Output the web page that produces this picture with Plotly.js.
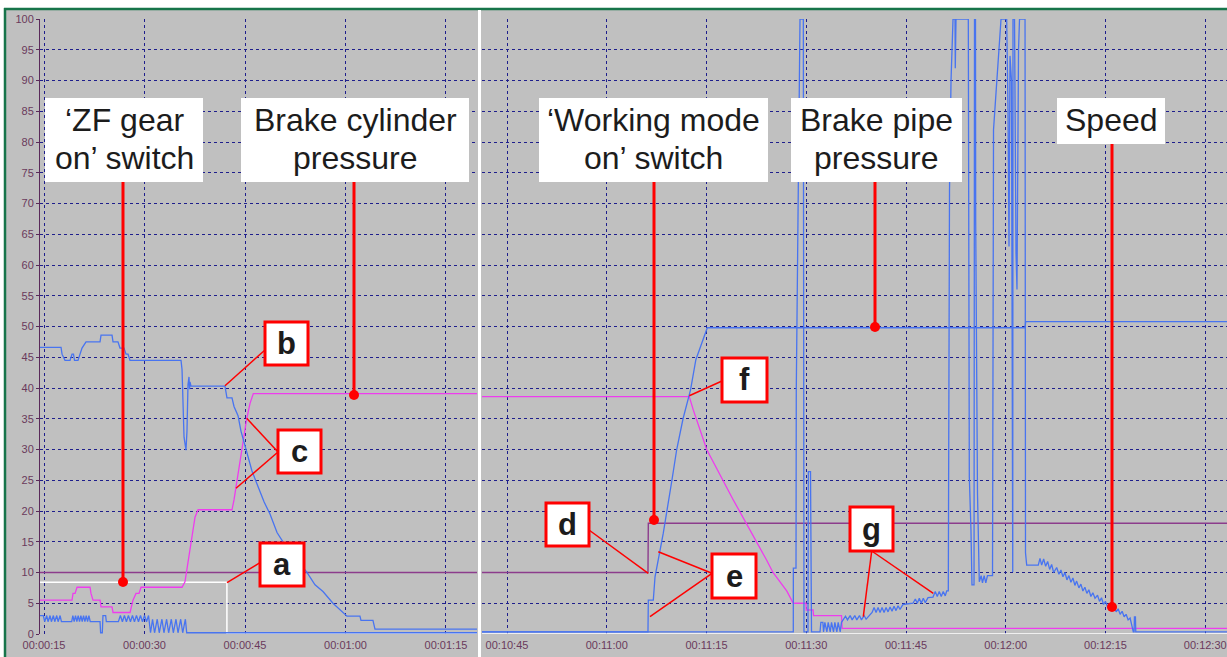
<!DOCTYPE html>
<html><head><meta charset="utf-8">
<script src="https://cdn.plot.ly/plotly-3.0.1.min.js"></script>
<style>html,body{margin:0;padding:0;background:#fff;}#chart{width:1227px;height:657px;}</style>
</head><body><div id="chart"></div>
<script>
// ---------- DATA (time in seconds, value in chart units 0-100) ----------
// Left window 00:00:15 .. 00:01:15
const leftTickVals = [15, 30, 45, 60, 75];
const leftTickText = ['00:00:15', '00:00:30', '00:00:45', '00:01:00', '00:01:15'];
// Right window 00:10:45 .. 00:12:30
const rightTickVals = [645, 660, 675, 690, 705, 720, 735, 750];
const rightTickText = ['00:10:45', '00:11:00', '00:11:15', '00:11:30', '00:11:45', '00:12:00', '00:12:15', '00:12:30'];

// 'ZF gear on' switch (white)
const zfLeft = [[14.4, 8.4], [42.3, 8.4], [42.3, 0], [79.63, 0]];
const zfRight = [[641.24, 0], [753.27, 0]];

// 'Working mode on' switch (purple)
const modeLeft = [[14.4, 10], [79.63, 10]];
const modeRight = [[641.24, 10], [666.2, 10], [666.25, 18], [753.27, 18]];

// Brake cylinder pressure (magenta)
const cylLeft = [[14.40,5.5],[19.18,5.5],[19.33,6.6],[19.63,6.6],[19.93,7.6],[21.87,7.6],[22.01,6.6],[22.31,5.5],[23.36,5.5],[23.51,4.4],[25.15,4.4],[25.30,3.5],[27.84,3.5],[28.28,5.5],[28.73,6.6],[29.18,6.6],[29.48,7.6],[35.60,7.6],[36.04,8.5],[36.79,14.0],[37.54,19.0],[37.99,20.2],[43.06,20.2],[43.36,21.8],[44.25,28.0],[45.25,35.0],[45.75,37.5],[46.24,39.1],[79.63,39.1]];
const cylRight = [[641.24,38.6],[672.41,38.6],[673.02,36.4],[675.03,30.0],[679.03,21.8],[682.55,15.0],[684.05,12.0],[685.0,10.0],[687.06,7.0],[688.05,5.0],[689.96,5.0],[690.0,3.9],[691.02,3.9],[691.1,3.0],[695.3,3.0],[695.4,0.9],[753.27,0.9]];

// Brake pipe pressure (blue)
const pipeLeft = [[14.40,46.6],[17.54,46.6],[17.69,45.5],[18.13,44.5],[18.88,44.5],[19.18,45.5],[19.40,45.5],[19.55,44.5],[20.07,44.5],[20.37,45.5],[20.67,46.5],[21.27,47.5],[23.36,47.5],[23.51,48.6],[25.15,48.6],[25.30,47.5],[26.04,47.5],[26.34,46.5],[26.94,46.5],[27.24,45.5],[27.54,45.5],[27.84,44.5],[35.45,44.5],[35.60,43.0],[35.75,38.0],[35.90,32.0],[36.19,29.9],[36.34,33.0],[36.49,40.5],[36.64,41.8],[36.72,39.8],[36.79,41.0],[36.94,40.3],[42.01,40.3],[42.31,38.4],[43.06,38.4],[43.36,37.0],[43.96,35.5],[44.40,33.0],[45.00,30.5],[45.45,29.0],[46.04,26.5],[46.94,24.0],[47.84,21.5],[48.73,19.5],[49.78,16.5],[50.67,15.0],[51.72,13.5],[53.21,11.5],[54.25,10.0],[55.45,8.0],[56.64,6.9],[58.13,5.0],[59.18,4.0],[60.22,2.9],[62.16,2.9],[62.31,2.2],[64.10,2.2],[64.40,0.8],[79.63,0.8]];
const pipeRight = [[641.24,0.35],[666.2,0.35],[666.25,5.5],[667.0,5.5],[667.26,9.3],[668.5,16.4],[669.8,25.0],[670.52,30.0],[671.47,35.0],[672.26,38.0],[672.6,39.7],[673.4,44.6],[675.12,49.8],[722.9,49.8],[723.0,50.8],[753.27,50.8]];

// Speed (blue)
const speedLeft = [[14.40,3.0],[14.9,3.0],[15.1,2.0],[15.4,3.0],[15.6,2.0],[15.9,3.0],[16.1,2.0],[16.4,3.0],[16.6,2.0],[16.9,3.0],[17.1,2.0],[17.4,3.0],[17.6,2.0],[19.13,2.0],[19.3,3.0],[19.5,2.0],[19.7,3.0],[19.9,2.0],[20.1,3.0],[20.3,2.0],[20.5,3.0],[20.7,2.0],[20.9,3.0],[21.1,2.0],[21.3,3.0],[21.5,2.0],[21.7,3.0],[21.9,2.0],[23.36,2.0],[23.45,0.2],[23.7,0.2],[23.8,3.0],[24.2,3.0],[24.3,2.0],[26.1,2.0],[26.4,3.0],[26.7,2.0],[27.0,3.0],[27.3,2.0],[27.6,3.0],[27.9,2.0],[28.2,3.0],[28.5,2.0],[28.8,3.0],[29.1,2.0],[29.4,3.0],[29.7,2.0],[30.0,3.0],[30.3,2.0],[30.6,3.0],[30.9,0.2],[31.2,2.4],[31.5,0.2],[31.9,2.4],[32.2,0.2],[32.6,2.4],[32.9,0.2],[33.3,2.4],[33.6,0.2],[34.0,2.4],[34.3,0.2],[34.7,2.4],[35.0,0.2],[35.4,2.4],[35.7,0.2],[36.1,2.4],[36.3,0.2],[79.63,0.2]];
const speedRight = [[641.24,0.35],[688.05,0.35],[688.06,10.7],[688.46,10.7],[688.5,39.7],[688.8,70],[689.06,100],[689.56,100],[689.66,0.35],[690.26,0.35],[690.31,26.4],[690.64,26.4],[690.67,12.8],[690.76,12.8],[690.79,0.35],[692.07,0.35],[692.2,1.9],[692.5,1.9],[692.6,0.35],[692.8,1.9],[693.1,0.35],[693.3,1.9],[693.6,0.35],[693.8,1.9],[694.1,0.35],[694.3,1.9],[694.6,0.35],[694.8,1.9],[695.1,0.35],[695.3,1.9],[695.53,2.3],[695.9,2.9],[696.2,2.3],[696.6,3.0],[696.9,2.3],[697.3,3.0],[697.6,2.3],[698.0,3.0],[698.3,2.3],[698.7,3.0],[699.0,2.4],[699.6,3.1],[699.9,3.5],[700.2,4.3],[700.5,3.5],[700.8,4.3],[701.1,3.5],[701.4,4.3],[701.7,3.5],[702.0,4.3],[702.3,3.6],[702.6,4.4],[702.9,3.7],[703.2,4.5],[703.5,3.8],[703.8,4.6],[704.1,4.0],[704.55,4.8],[706.05,5.0],[706.4,5.7],[706.7,5.0],[707.0,5.8],[707.3,5.0],[707.6,5.8],[707.9,5.1],[708.31,5.9],[709.06,6.0],[709.4,6.9],[709.7,6.1],[710.0,6.9],[710.3,6.1],[710.6,6.9],[710.9,6.2],[711.12,7.0],[711.36,7.0],[711.54,72],[711.77,90],[712.07,100],[712.37,100],[712.41,92],[712.52,100],[714.37,100],[714.52,25.6],[714.77,16.9],[714.92,8.0],[715.23,8.0],[715.3,100],[715.45,100],[715.48,67],[715.75,22.9],[716.02,8.5],[716.3,9.5],[716.5,8.3],[716.75,9.5],[717.0,8.3],[717.25,9.5],[718.01,9.5],[718.16,82],[718.79,92],[719.03,95.8],[719.29,100],[720.14,100],[720.34,85],[720.49,63],[720.64,94],[720.86,90],[720.98,10.1],[721.05,10.1],[721.09,100],[721.32,100],[721.54,62],[721.69,56],[721.92,95],[722.07,100],[722.9,100],[722.97,13.2],[723.15,11.2],[724.89,11.2],[725.15,12.3],[725.4,11.2],[725.7,12.2],[726.0,11.0],[726.3,11.8],[726.6,10.5],[726.9,11.3],[727.2,10.0],[727.66,10.8],[728.0,9.7],[728.3,10.4],[728.6,9.3],[728.9,10.0],[729.2,8.8],[729.5,9.5],[729.8,8.4],[730.1,9.1],[730.4,7.9],[730.66,8.6],[731.0,7.5],[731.3,8.1],[731.6,7.0],[731.9,7.6],[732.2,6.6],[732.5,7.2],[732.8,6.1],[733.1,6.7],[733.42,5.8],[733.8,6.3],[734.1,5.3],[734.4,5.9],[734.7,4.8],[735.0,5.3],[735.3,4.4],[735.7,4.9],[736.0,4.0],[736.3,4.5],[736.6,3.6],[736.9,4.1],[737.2,3.2],[737.5,3.7],[737.8,2.8],[738.1,3.2],[738.4,2.3],[738.7,2.6],[739.0,1.2],[739.18,0.35],[739.3,0.35],[739.35,2.8],[739.5,2.8],[739.55,0.35],[753.27,0.35]];

// Callout labels
const bigLabels = [
  {lines: ['\u2018ZF gear', 'on\u2019 switch'], box: [45, 98, 203, 182], pin: [123, 582]},
  {lines: ['Brake cylinder', 'pressure'], box: [241, 98, 469, 182], pin: [354, 395]},
  {lines: ['\u2018Working mode', 'on\u2019 switch'], box: [539, 98, 768, 182], pin: [654, 520]},
  {lines: ['Brake pipe', 'pressure'], box: [791, 98, 962, 182], pin: [875, 327]},
  {lines: ['Speed'], box: [1057, 98, 1165, 144], pin: [1112, 607]}
];
const letterLabels = [
  {t: 'a', box: [260, 543, 304, 586], leaders: [[227, 582.7]], from: [260, 562.7]},
  {t: 'b', box: [265, 322, 308, 365], leaders: [[225, 385.7]], from: [265, 350]},
  {t: 'c', box: [278, 430, 321, 473], leaders: [[246.7, 418.3], [236, 488.3]], from: [278, 452]},
  {t: 'd', box: [546, 503, 589, 546], leaders: [[648.3, 573.3]], from: [589, 530]},
  {t: 'e', box: [712, 554, 756, 598], leaders: [[658.3, 551.7], [650, 616.7]], from: [712, 573.3]},
  {t: 'f', box: [722, 358, 767, 402], leaders: [[689.3, 395.7]], from: [722, 381]},
  {t: 'g', box: [850, 507, 893, 551], leaders: [[863.3, 616.7], [933.3, 593.3]], from: [871.7, 551]}
];

// ---------- RENDER ----------
const W = 1227, H = 657, ML = 40, MR = 0, MT = 19, MB = 23;
const PW = W - ML - MR, PH = H - MT - MB;
const px = x => (x - ML) / PW;
const py = y => (H - MB - y) / PH;

const BLUE = '#4874f0', MAG = '#ee3cee', PURP = '#8c3c8c';
const FONT = 'Liberation Sans, Arial, sans-serif';
const xs = a => a.map(p => p[0]);
const ys = a => a.map(p => p[1]);
function tr(arr, color, width, xa, ya) {
  return {x: xs(arr), y: ys(arr), type: 'scatter', mode: 'lines', xaxis: xa, yaxis: ya,
    line: {color: color, width: width}, hoverinfo: 'skip', showlegend: false};
}
const data = [
  tr(zfLeft, '#ffffff', 1.5, 'x', 'y'),
  tr(modeLeft, PURP, 1.4, 'x', 'y'),
  tr(cylLeft, MAG, 1.3, 'x', 'y'),
  tr(speedLeft, BLUE, 1.3, 'x', 'y'),
  tr(pipeLeft, BLUE, 1.3, 'x', 'y'),
  tr(zfRight, '#ffffff', 1.5, 'x2', 'y2'),
  tr(modeRight, PURP, 1.4, 'x2', 'y2'),
  tr(cylRight, MAG, 1.3, 'x2', 'y2'),
  tr(pipeRight, BLUE, 1.3, 'x2', 'y2'),
  tr(speedRight, BLUE, 1.3, 'x2', 'y2')
];

const GRID = '#1e1e8c', AX = '#5a2a5a', TICKC = '#6a3a5c';
const gridStyle = {showgrid: true, gridcolor: GRID, gridwidth: 1, griddash: '3px,3px', zeroline: false, fixedrange: true};
const layout = {
  width: W, height: H,
  margin: {l: ML, r: MR, t: MT, b: MB, pad: 0},
  paper_bgcolor: '#c0c0c0', plot_bgcolor: '#c0c0c0',
  showlegend: false,
  xaxis: Object.assign({}, gridStyle, {domain: [0, px(477)], range: [14.4, 79.63], anchor: 'y',
    tickmode: 'array', tickvals: leftTickVals, ticktext: leftTickText, ticks: '', ticklabelstandoff: 3,
    tickfont: {family: FONT, size: 11, color: TICKC}, showline: false}),
  yaxis: Object.assign({}, gridStyle, {domain: [0, 1], range: [0, 100], anchor: 'x', tick0: 0, dtick: 5,
    ticks: 'outside', ticklen: 3, tickcolor: AX, showline: true, linecolor: AX, linewidth: 1,
    tickfont: {family: FONT, size: 11, color: TICKC}}),
  xaxis2: Object.assign({}, gridStyle, {domain: [px(482), 1], range: [641.24, 753.27], anchor: 'y2',
    tickmode: 'array', tickvals: rightTickVals, ticktext: rightTickText, ticks: '', ticklabelstandoff: 3,
    tickfont: {family: FONT, size: 11, color: TICKC}, showline: false}),
  yaxis2: Object.assign({}, gridStyle, {domain: [0, 1], range: [0, 100], anchor: 'x2', tick0: 0, dtick: 5,
    showticklabels: false, ticks: '', showline: false}),
  shapes: [], annotations: []
};

const S = layout.shapes, A = layout.annotations;
// frame: white outside, green border, white divider
S.push({type: 'rect', xref: 'paper', yref: 'paper', x0: px(0), x1: px(W), y0: py(8), y1: py(0), fillcolor: '#ffffff', line: {width: 0}, layer: 'below'});
S.push({type: 'rect', xref: 'paper', yref: 'paper', x0: px(0), x1: px(4), y0: py(H), y1: py(0), fillcolor: '#ffffff', line: {width: 0}, layer: 'below'});
S.push({type: 'line', xref: 'paper', yref: 'paper', x0: px(4), x1: px(W), y0: py(9), y1: py(9), line: {color: '#17744a', width: 2.5}, layer: 'above'});
S.push({type: 'line', xref: 'paper', yref: 'paper', x0: px(5), x1: px(5), y0: py(8), y1: py(H), line: {color: '#17744a', width: 2.5}, layer: 'above'});
S.push({type: 'line', xref: 'paper', yref: 'paper', x0: px(479.5), x1: px(479.5), y0: py(10), y1: py(H), line: {color: '#ffffff', width: 3}, layer: 'above'});

// big labels with red pins
bigLabels.forEach(L => {
  const [x0, y0, x1, y1] = L.box;
  const cx = (x0 + x1) / 2;
  S.push({type: 'line', xref: 'paper', yref: 'paper', x0: px(L.pin[0]), x1: px(L.pin[0]), y0: py(y1), y1: py(L.pin[1]), line: {color: '#ff0000', width: 3}, layer: 'above'});
  S.push({type: 'circle', xref: 'paper', yref: 'paper', x0: px(L.pin[0] - 5), x1: px(L.pin[0] + 5), y0: py(L.pin[1] + 5), y1: py(L.pin[1] - 5), fillcolor: '#ff0000', line: {width: 0}, layer: 'above'});
  S.push({type: 'rect', xref: 'paper', yref: 'paper', x0: px(x0), x1: px(x1), y0: py(y1), y1: py(y0), fillcolor: '#ffffff', line: {width: 0}, layer: 'above'});
  L.lines.forEach((t, i) => {
    A.push({xref: 'paper', yref: 'paper', x: px(cx), y: py(120 + i * 37.5), text: t, showarrow: false,
      xanchor: 'center', yanchor: 'middle', font: {family: FONT, size: 32, color: '#1c1c1c'}});
  });
});
// letter callouts
letterLabels.forEach(L => {
  const [x0, y0, x1, y1] = L.box;
  L.leaders.forEach(p => {
    S.push({type: 'line', xref: 'paper', yref: 'paper', x0: px(L.from[0]), y0: py(L.from[1]), x1: px(p[0]), y1: py(p[1]), line: {color: '#ff0000', width: 1.5}, layer: 'above'});
  });
  S.push({type: 'rect', xref: 'paper', yref: 'paper', x0: px(x0), x1: px(x1), y0: py(y1), y1: py(y0), fillcolor: '#ffffff', line: {color: '#ff0000', width: 3}, layer: 'above'});
  A.push({xref: 'paper', yref: 'paper', x: px((x0 + x1) / 2), y: py((y0 + y1) / 2), text: '<b>' + L.t + '</b>', showarrow: false,
    xanchor: 'center', yanchor: 'middle', font: {family: FONT, size: 31, color: '#1c1c1c'}});
});

Plotly.newPlot('chart', data, layout, {staticPlot: true, displayModeBar: false});
</script></body></html>
